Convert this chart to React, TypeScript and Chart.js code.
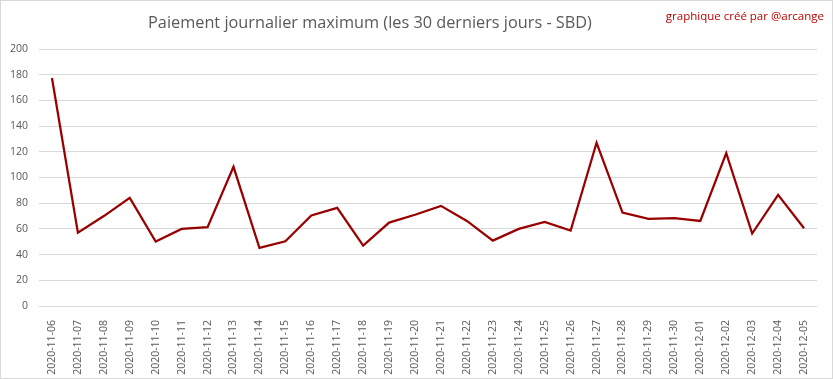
import React, { useEffect, useRef } from "react";
import { Chart, registerables } from "chart.js";

Chart.register(...registerables);

const categories: string[] = [
  "2020-11-06", "2020-11-07", "2020-11-08", "2020-11-09", "2020-11-10",
  "2020-11-11", "2020-11-12", "2020-11-13", "2020-11-14", "2020-11-15",
  "2020-11-16", "2020-11-17", "2020-11-18", "2020-11-19", "2020-11-20",
  "2020-11-21", "2020-11-22", "2020-11-23", "2020-11-24", "2020-11-25",
  "2020-11-26", "2020-11-27", "2020-11-28", "2020-11-29", "2020-11-30",
  "2020-12-01", "2020-12-02", "2020-12-03", "2020-12-04", "2020-12-05",
];

const maxPayout: number[] = [
  177.4, 57.1, 70, 84.2, 50.1,
  60, 61.3, 108.3, 45.2, 50.4,
  70.4, 76.4, 47, 64.9, 71,
  77.9, 66.2, 50.9, 60, 65.5,
  58.7, 127, 72.7, 67.8, 68.3,
  66.2, 119, 56.4, 86.5, 60.5,
];

const titleText = "Paiement journalier maximum (les 30 derniers jours - SBD)";
const creditText = "graphique créé par @arcange";
const yMin = 0;
const yMax = 200;
const yStep = 20;

const FONT = "'Open Sans', 'Noto Sans', sans-serif";

const decorPlugin = {
  id: "decor",
  beforeDraw(chart: any) {
    const ctx = chart.ctx;
    ctx.save();
    ctx.fillStyle = "#ffffff";
    ctx.fillRect(0, 0, chart.width, chart.height);
    ctx.restore();
  },
  afterDraw(chart: any) {
    const ctx = chart.ctx;
    ctx.save();
    ctx.strokeStyle = "#d9d9d9";
    ctx.lineWidth = 1;
    ctx.strokeRect(0.5, 0.5, chart.width - 1, chart.height - 1);
    ctx.fillStyle = "#595959";
    ctx.font = `16.3px ${FONT}`;
    ctx.textAlign = "center";
    ctx.textBaseline = "middle";
    ctx.fillText(titleText, 370, 23);
    ctx.fillStyle = "#c00000";
    ctx.font = `11.5px ${FONT}`;
    ctx.textAlign = "right";
    ctx.fillText(creditText, 824, 17);
    ctx.restore();
  },
};

function LineChart() {
  const ref = useRef<HTMLCanvasElement | null>(null);
  useEffect(() => {
    document.body.style.margin = "0";
    if (!ref.current) return;
    const chart = new Chart(ref.current, {
      type: "line",
      data: {
        labels: categories,
        datasets: [
          {
            label: "Paiement journalier maximum",
            data: maxPayout,
            borderColor: "#990000",
            borderWidth: 2.25,
            pointRadius: 0,
            tension: 0,
            fill: false,
          },
        ],
      },
      options: {
        animation: false,
        responsive: false,
        maintainAspectRatio: false,
        layout: { padding: { top: 49, left: 0, right: 16, bottom: 0 } },
        plugins: {
          legend: { display: false },
          title: { display: false },
          tooltip: { enabled: false },
        },
        scales: {
          x: {
            type: "category",
            offset: true,
            grid: { display: false },
            border: { display: false },
            ticks: {
              autoSkip: false,
              maxRotation: 90,
              minRotation: 90,
              padding: 6,
              color: "#595959",
              font: { family: FONT, size: 10.5 },
            },
            afterFit(scale: any) {
              scale.height = 73;
            },
          },
          y: {
            min: yMin,
            max: yMax,
            border: { display: false },
            grid: { color: "#d9d9d9", drawTicks: false, lineWidth: 1 },
            ticks: {
              stepSize: yStep,
              padding: 11,
              color: "#595959",
              font: { family: FONT, size: 10.5 },
            },
            afterFit(scale: any) {
              scale.width = 39;
            },
          },
        },
      },
      plugins: [decorPlugin],
    });
    return () => chart.destroy();
  }, []);
  return <canvas ref={ref} width={833} height={379} style={{ display: "block" }} />;
}

export default function App() {
  return <LineChart />;
}
